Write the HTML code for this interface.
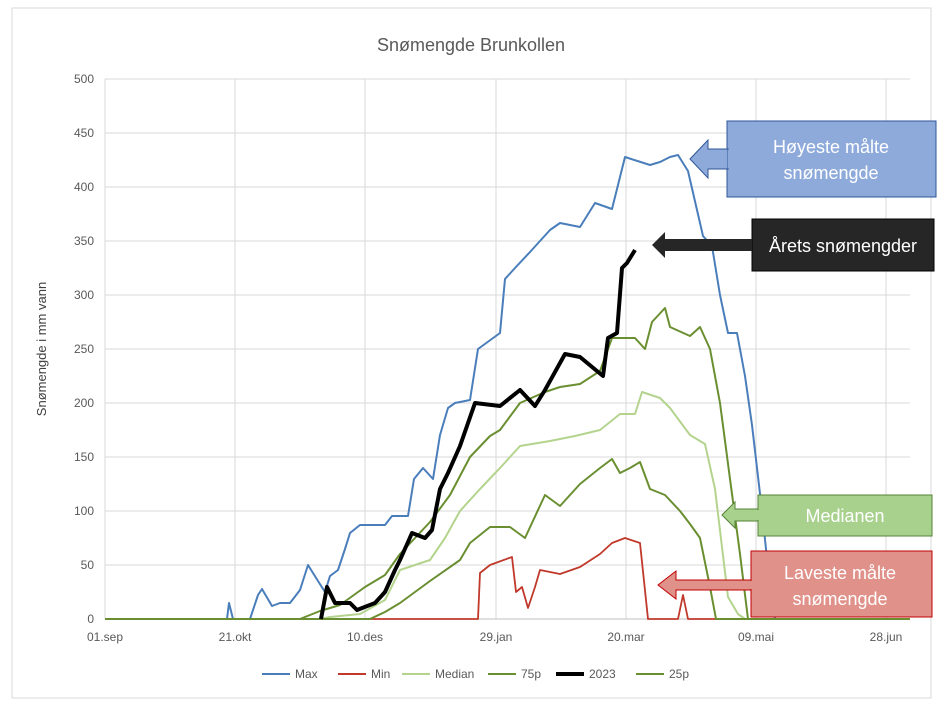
<!DOCTYPE html>
<html><head><meta charset="utf-8"><style>
body{margin:0;background:#fff;}
svg{font-family:"Liberation Sans",sans-serif;}
</style></head><body>
<svg width="943" height="707" xmlns="http://www.w3.org/2000/svg">
<rect x="12" y="8" width="919" height="690" fill="#fff" stroke="#d9d9d9"/>
<text x="471" y="51" font-size="18" fill="#595959" text-anchor="middle">Snømengde Brunkollen</text>
<g stroke="#d9d9d9" stroke-width="1">
<line x1="105" x2="910" y1="79" y2="79"/><line x1="105" x2="910" y1="133" y2="133"/><line x1="105" x2="910" y1="187" y2="187"/><line x1="105" x2="910" y1="241" y2="241"/><line x1="105" x2="910" y1="295" y2="295"/><line x1="105" x2="910" y1="349" y2="349"/><line x1="105" x2="910" y1="403" y2="403"/><line x1="105" x2="910" y1="457" y2="457"/><line x1="105" x2="910" y1="511" y2="511"/><line x1="105" x2="910" y1="565" y2="565"/>
<line x1="105" x2="105" y1="79" y2="619"/><line x1="235" x2="235" y1="79" y2="619"/><line x1="365" x2="365" y1="79" y2="619"/><line x1="496" x2="496" y1="79" y2="619"/><line x1="626" x2="626" y1="79" y2="619"/><line x1="756" x2="756" y1="79" y2="619"/><line x1="886" x2="886" y1="79" y2="619"/>
</g>
<line x1="105" x2="910" y1="619" y2="619" stroke="#bfbfbf"/>
<g font-size="12" fill="#595959" text-anchor="end">
<text x="94" y="83">500</text><text x="94" y="137">450</text><text x="94" y="191">400</text><text x="94" y="245">350</text><text x="94" y="299">300</text><text x="94" y="353">250</text><text x="94" y="407">200</text><text x="94" y="461">150</text><text x="94" y="515">100</text><text x="94" y="569">50</text><text x="94" y="623">0</text>
</g>
<g font-size="12" fill="#595959" text-anchor="middle">
<text x="105" y="641">01.sep</text><text x="235" y="641">21.okt</text><text x="365" y="641">10.des</text><text x="496" y="641">29.jan</text><text x="626" y="641">20.mar</text><text x="756" y="641">09.mai</text><text x="886" y="641">28.jun</text>
</g>
<text transform="translate(46,349) rotate(-90)" font-size="13" fill="#404040" text-anchor="middle">Snømengde i mm vann</text>
<g fill="none" stroke-width="2" stroke-linejoin="round">
<polyline stroke="#4a7ebb" points="105,619 227,619 229,603 233,619 250,619 258,595 262,589 272,606 280,603 290,603 300,590 308,565 318,581 325,592 330,576 338,570 345,549 350,533 360,525 385,525 392,516 408,516 414,479 423,468 433,479 440,435 448,408 455,403 470,400 478,349 500,333 505,279 515,268 530,252 550,230 560,223 580,227 595,203 612,209 625,157 650,165 660,162 670,157 678,155 688,171 703,236 712,246 720,295 728,333 737,333 745,376 752,425 762,511 770,587 775,619 910,619"/>
<polyline stroke="#c0392b" stroke-width="1.8" points="105,619 478,619 480,573 490,565 512,557 516,592 522,587 528,608 535,587 540,570 560,574 580,567 600,554 612,543 625,538 640,543 648,619 678,619 683,595 688,619 910,619"/>
<polyline stroke="#b4d48e" points="105,619 320,619 330,617 360,614 385,600 400,570 430,560 445,538 460,511 480,489 500,468 520,446 550,441 575,436 600,430 620,414 635,414 642,392 660,398 670,408 690,435 705,444 715,489 728,597 738,614 745,619 910,619"/>
<polyline stroke="#6a8f31" points="105,619 300,619 320,611 340,605 365,587 385,575 400,554 430,522 450,495 470,457 490,436 500,430 520,403 545,392 560,387 580,384 600,371 612,338 635,338 645,349 652,322 665,308 670,327 690,336 700,327 710,349 720,403 730,479 740,554 748,619 910,619"/>
<polyline stroke="#6a8f31" points="105,619 370,619 385,612 400,603 430,581 460,560 470,543 490,527 510,527 525,538 545,495 560,506 580,484 600,468 612,459 620,473 630,468 640,462 650,489 665,495 680,511 690,524 700,538 710,587 716,619 910,619"/>
<polyline stroke="#000" stroke-width="4" points="321,619 327,587 335,603 350,603 357,610 375,603 385,592 395,570 400,560 412,533 425,538 432,530 440,489 448,473 460,446 475,403 500,406 520,390 535,406 545,390 565,354 580,357 603,376 608,338 617,333 622,268 627,263 635,250"/>
</g>
<rect x="727" y="121" width="209" height="76" fill="#8eaadb" stroke="#2f5597"/>
<polygon points="690,159 708,140 708,149 728,149 728,169 708,169 708,178" fill="#8eaadb" stroke="#2f5597"/>
<rect x="728" y="150" width="2" height="18" fill="#8eaadb"/>
<text x="831" y="153" font-size="18" fill="#fff" text-anchor="middle">Høyeste målte</text>
<text x="831" y="179" font-size="18" fill="#fff" text-anchor="middle">snømengde</text>
<rect x="752" y="219" width="182" height="52" fill="#262626" stroke="#000"/>
<polygon points="652,245 665,232 665,239 752,239 752,251 665,251 665,258" fill="#262626"/>
<text x="843" y="252" font-size="18" fill="#fff" text-anchor="middle">Årets snømengder</text>
<rect x="758" y="495" width="174" height="41" fill="#a9d18e" stroke="#548235"/>
<polygon points="722,515 735,502 735,509 758,509 758,521 735,521 735,528" fill="#a9d18e" stroke="#548235"/>
<rect x="756" y="510" width="4" height="10" fill="#a9d18e"/>
<text x="845" y="522" font-size="18" fill="#fff" text-anchor="middle">Medianen</text>
<rect x="751" y="551" width="181" height="66" fill="#e0918a" stroke="#c00000"/>
<polygon points="658,585 676,571 676,580 751,580 751,590 676,590 676,599" fill="#e0918a" stroke="#c00000"/>
<rect x="748" y="581" width="5" height="8" fill="#e0918a"/>
<text x="840" y="579" font-size="18" fill="#fff" text-anchor="middle">Laveste målte</text>
<text x="840" y="605" font-size="18" fill="#fff" text-anchor="middle">snømengde</text>
<g font-size="12" fill="#595959">
<line x1="262" x2="290" y1="674" y2="674" stroke="#4a7ebb" stroke-width="2"/><text x="295" y="678">Max</text>
<line x1="338" x2="366" y1="674" y2="674" stroke="#c0392b" stroke-width="2"/><text x="371" y="678">Min</text>
<line x1="402" x2="430" y1="674" y2="674" stroke="#b4d48e" stroke-width="2"/><text x="435" y="678">Median</text>
<line x1="488" x2="516" y1="674" y2="674" stroke="#6a8f31" stroke-width="2"/><text x="521" y="678">75p</text>
<line x1="556" x2="584" y1="674" y2="674" stroke="#000" stroke-width="4"/><text x="589" y="678">2023</text>
<line x1="636" x2="664" y1="674" y2="674" stroke="#6a8f31" stroke-width="2"/><text x="669" y="678">25p</text>
</g>
</svg>
</body></html>
